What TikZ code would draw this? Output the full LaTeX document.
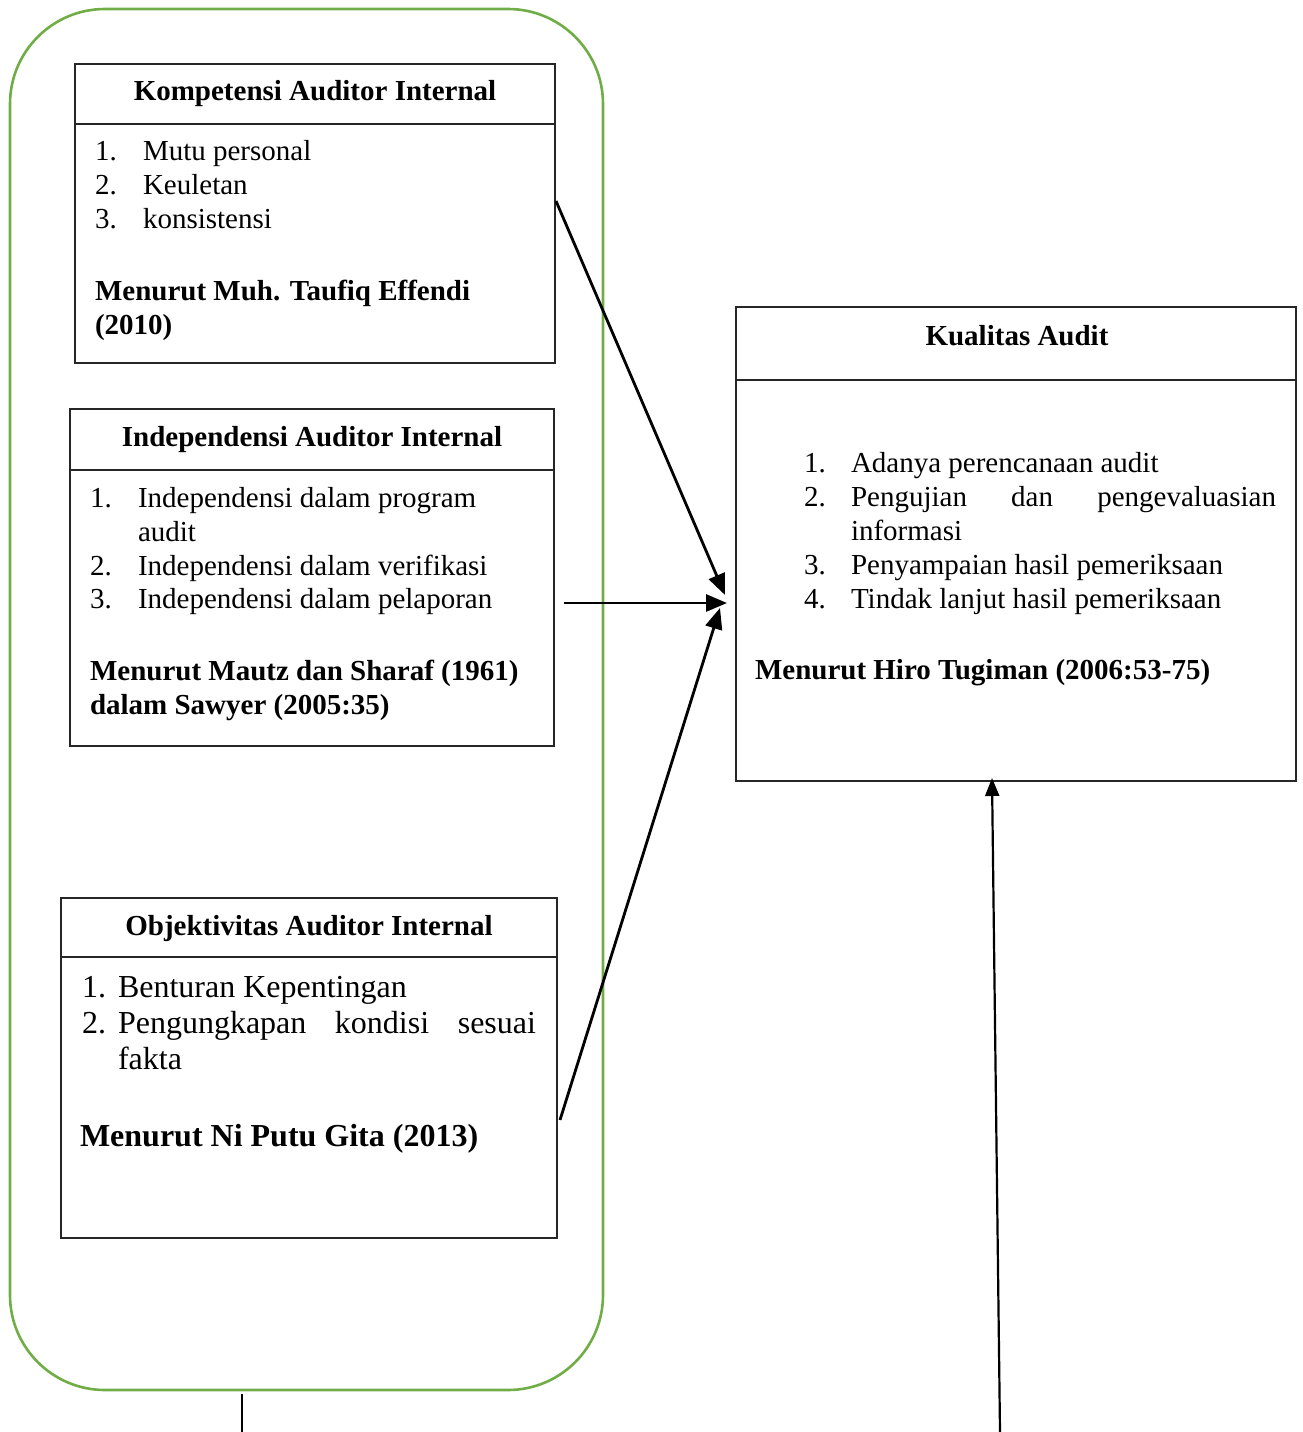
\documentclass[tikz,border=0pt]{standalone}
\usepackage{fontspec}
\setmainfont{Liberation Serif}
\usetikzlibrary{arrows.meta}
\definecolor{frameGreen}{HTML}{70AD47}
\begin{document}
\begin{tikzpicture}[x=1pt,y=-1pt,
  boxframe/.style={draw=black!85,line width=1.1pt,inner sep=0pt,outer sep=0pt,anchor=north west},
  divider/.style={draw=black!85,line width=1.1pt},
  txt/.style={inner sep=0pt,outer sep=0pt,anchor=base west,font=\fontsize{29}{34}\selectfont},
  bigtxt/.style={inner sep=0pt,outer sep=0pt,anchor=base west,font=\fontsize{32}{36}\selectfont},
  ttl/.style={inner sep=0pt,outer sep=0pt,anchor=base,font=\fontsize{29}{34}\selectfont\bfseries},
  conn/.style={line width=2.8pt,-{Triangle[length=21pt,width=17pt]}},
]
\useasboundingbox (0,0) rectangle (1302,1432);
% green frame
\draw[frameGreen,line width=2.6pt,rounded corners=95pt] (10,9) rectangle (603,1390);

% Box 1
\node[boxframe,minimum width=480,minimum height=299] (b1) at (75,64) {};
\draw[divider] (75,124) -- (555,124);
\node[ttl] (t1) at (315,100) {Kompetensi Auditor Internal};
\node[txt] (n11) at (95,160) {1.};
\node[txt] (i11) at (143,160) {Mutu personal};
\node[txt] (n12) at (95,194) {2.};
\node[txt] (i12) at (143,194) {Keuletan};
\node[txt] (n13) at (95,228) {3.};
\node[txt] (i13) at (143,228) {konsistensi};
\node[txt,font=\fontsize{29}{34}\selectfont\bfseries] (r11) at (95,300) {Menurut Muh. Taufiq Effendi};
\node[txt,font=\fontsize{29}{34}\selectfont\bfseries] (r12) at (95,334) {(2010)};

% Box 2
\node[boxframe,minimum width=484,minimum height=337] (b2) at (70,409) {};
\draw[divider] (70,470) -- (554,470);
\node[ttl] (t2) at (312,446) {Independensi Auditor Internal};
\node[txt] (n21) at (90,507) {1.};
\node[txt] (i21) at (138,507) {Independensi dalam program};
\node[txt] (i21b) at (138,541) {audit};
\node[txt] (n22) at (90,575) {2.};
\node[txt] (i22) at (138,575) {Independensi dalam verifikasi};
\node[txt] (n23) at (90,608) {3.};
\node[txt] (i23) at (138,608) {Independensi dalam pelaporan};
\node[txt,font=\fontsize{29}{34}\selectfont\bfseries] (r21) at (90,680) {Menurut Mautz dan Sharaf (1961)};
\node[txt,font=\fontsize{29}{34}\selectfont\bfseries] (r22) at (90,714) {dalam Sawyer (2005:35)};

% Box 3
\node[boxframe,minimum width=496,minimum height=340] (b3) at (61,898) {};
\draw[divider] (61,957) -- (557,957);
\node[ttl] (t3) at (309,935) {Objektivitas Auditor Internal};
\node[bigtxt] (n31) at (82,997) {1.};
\node[bigtxt] (i31) at (118,997) {Benturan Kepentingan};
\node[bigtxt] (n32) at (82,1033) {2.};
\node[bigtxt] (i32) at (118,1033) {\makebox[418pt][s]{Pengungkapan kondisi sesuai}};
\node[bigtxt] (i32b) at (118,1069) {fakta};
\node[bigtxt,font=\fontsize{32}{36}\selectfont\bfseries] (r31) at (80,1146) {Menurut Ni Putu Gita (2013)};

% Box 4
\node[boxframe,minimum width=560,minimum height=474] (b4) at (736,307) {};
\draw[divider] (736,380) -- (1296,380);
\node[ttl] (t4) at (1017,345) {Kualitas Audit};
\node[txt] (n41) at (804,472) {1.};
\node[txt] (i41) at (851,472) {Adanya perencanaan audit};
\node[txt] (n42) at (804,506) {2.};
\node[txt] (i42) at (851,506) {\makebox[425pt][s]{Pengujian dan pengevaluasian}};
\node[txt] (i42b) at (851,540) {informasi};
\node[txt] (n43) at (804,574) {3.};
\node[txt] (i43) at (851,574) {Penyampaian hasil pemeriksaan};
\node[txt] (n44) at (804,608) {4.};
\node[txt] (i44) at (851,608) {Tindak lanjut hasil pemeriksaan};
\node[txt,font=\fontsize{29}{34}\selectfont\bfseries] (r41) at (755,679) {Menurut Hiro Tugiman (2006:53-75)};

% connector end points
\coordinate (a1s) at (556,201);
\coordinate (a1e) at (725,595);
\coordinate (a2s) at (564,603);
\coordinate (a2e) at (727,603);
\coordinate (a3s) at (560,1120);
\coordinate (a3e) at (720,608);
\coordinate (a4s) at (1000,1432);
\coordinate (a4e) at (992,778);
\coordinate (l5s) at (242,1394);
\coordinate (l5e) at (242,1432);

\draw[conn] (a1s) -- (a1e);
\draw[conn] (a2s) -- (a2e);
\draw[conn] (a3s) -- (a3e);
\draw[line width=2.2pt,-{Triangle[length=18pt,width=14pt]}] (a4s) -- (a4e);
\draw[line width=1.4pt] (l5s) -- (l5e);
\end{tikzpicture}
\end{document}
